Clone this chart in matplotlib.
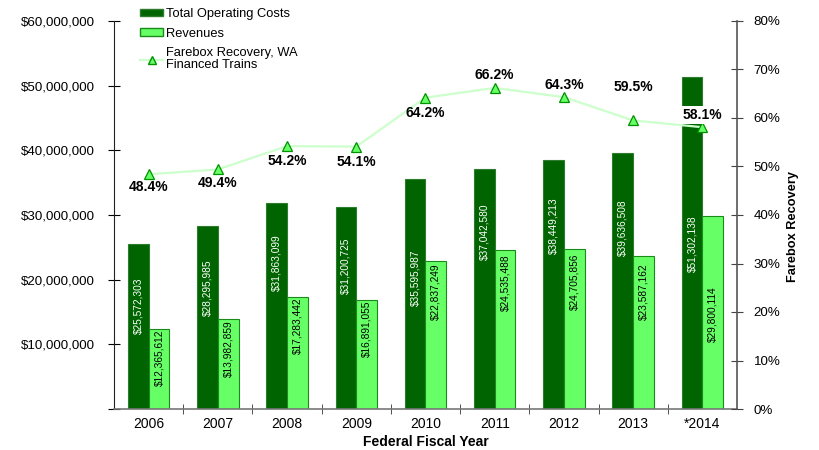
import numpy as np
import matplotlib
matplotlib.use("Agg")
import matplotlib.pyplot as plt
from matplotlib.ticker import FuncFormatter, MultipleLocator, FixedLocator
from matplotlib.patches import Patch
from matplotlib.lines import Line2D

plt.rcParams['font.family'] = ['Liberation Sans', 'DejaVu Sans']
NARROW = ['Liberation Sans Narrow', 'Liberation Sans', 'DejaVu Sans']

# data
years = ['2006', '2007', '2008', '2009', '2010', '2011', '2012', '2013', '*2014']
costs = [25572303, 28295985, 31863099, 31200725, 35595987, 37042580, 38449213, 39636508, 51302138]
revenues = [12365612, 13982859, 17283442, 16891055, 22837249, 24535488, 24705856, 23587162, 29800114]
recovery = [48.4, 49.4, 54.2, 54.1, 64.2, 66.2, 64.3, 59.5, 58.1]

# where the value labels sit (layout only)
cost_lab_y = [15.9e6, 18.7e6, 22.7e6, 22.1e6, 20.3e6, 27.4e6, 28.4e6, 28.1e6, 25.5e6]
rev_lab_y = [7.9e6, 9.4e6, 12.8e6, 12.4e6, 18.1e6, 19.6e6, 19.6e6, 18.2e6, 14.7e6]
pct_off = [-13, -14, -15, -15, -15, 13, 12, 33, 12]

DARK = '#006400'
LIGHT = '#66ff66'

fig = plt.figure(figsize=(8.19, 4.5), dpi=100)
ax = fig.add_axes([114/819, 41/450, 623/819, 388/450])
x = np.arange(len(years))
w = 0.30

ax.bar(x - w, costs, w, align='edge', color=DARK, edgecolor='#2e7d2e', linewidth=0.8, zorder=2)
ax.bar(x, revenues, w, align='edge', color=LIGHT, edgecolor='#1a8a1a', linewidth=0.8, zorder=2)

for i in range(len(years)):
    ax.text(x[i] - w/2, cost_lab_y[i], '${:,}'.format(costs[i]), rotation=90, ha='center', va='center',
            color='white', fontsize=7.3, family=NARROW, zorder=3)
    ax.text(x[i] + w/2, rev_lab_y[i], '${:,}'.format(revenues[i]), rotation=90, ha='center', va='center',
            color='black', fontsize=7.3, family=NARROW, zorder=3)

ax.set_xlim(-0.5, len(years) - 0.5)
ax.set_ylim(0, 60e6)
ax.yaxis.set_major_locator(MultipleLocator(10e6))
ax.yaxis.set_major_formatter(FuncFormatter(lambda v, p: '' if v == 0 else '${:,.0f}'.format(v)))
ax.set_xticks(x)
ax.set_xticklabels(years, fontsize=10)
ax.xaxis.set_minor_locator(FixedLocator(x[:-1] + 0.5))
ax.tick_params(axis='x', which='major', length=0, pad=6)
ax.tick_params(axis='x', which='minor', direction='inout', length=7, color='#333333')
ax.tick_params(axis='y', direction='inout', length=8, labelsize=9.6, pad=10)
ax.set_xlabel('Federal Fiscal Year', fontsize=10, fontweight='bold', labelpad=3)
for s in ['top', 'right']:
    ax.spines[s].set_visible(False)
ax.spines['left'].set_color('#222222')
ax.spines['bottom'].set_color('#777777')
ax.spines['bottom'].set_linewidth(1.2)

ax2 = ax.twinx()
ax2.plot(x, recovery, color='#ccffcc', linewidth=1.6, marker='^', markersize=7,
         markerfacecolor=LIGHT, markeredgecolor='#009000', markeredgewidth=0.9, zorder=4)
ax2.set_ylim(0, 80)
ax2.yaxis.set_major_locator(MultipleLocator(10))
ax2.yaxis.set_major_formatter(FuncFormatter(lambda v, p: '{:.0f}%'.format(v)))
ax2.tick_params(axis='y', direction='inout', length=8, labelsize=9.6, color='#444444', pad=8)
for s in ['top', 'left', 'bottom']:
    ax2.spines[s].set_visible(False)
ax2.spines['right'].set_color('#555555')
ax2.spines['right'].set_linewidth(1.2)
ax2.set_ylabel('Farebox Recovery', fontsize=9.2, fontweight='bold', family=NARROW)
ax2.yaxis.set_label_coords(1.08, 0.47)

for i in range(len(years)):
    bb = None
    if i == len(years) - 1:
        bb = dict(boxstyle='square,pad=0.15', facecolor='white', edgecolor='none')
    ax2.annotate('{:.1f}%'.format(recovery[i]), (x[i], recovery[i]), xytext=(0, pct_off[i]),
                 textcoords='offset pixels', ha='center', va='center', fontsize=10,
                 fontweight='bold', bbox=bb, zorder=5)

handles = [Patch(facecolor=DARK, edgecolor='#2e7d2e'),
           Patch(facecolor=LIGHT, edgecolor='#1a8a1a'),
           Line2D([], [], color='#ccffcc', linewidth=1.6, marker='^', markersize=6,
                  markerfacecolor=LIGHT, markeredgecolor='#009000')]
labels = ['Total Operating Costs', 'Revenues', 'Farebox Recovery, WA\nFinanced Trains']
leg = fig.legend(handles, labels, loc='upper left', bbox_to_anchor=(136/819, 1 - 4/450), frameon=False,
                 fontsize=9.3, handlelength=1.8, handleheight=0.5, handletextpad=0.2, labelspacing=0.6,
                 borderaxespad=0, borderpad=0.3)
leg.get_texts()[2].set_linespacing(0.95)

fig.savefig('out.png', dpi=100)
